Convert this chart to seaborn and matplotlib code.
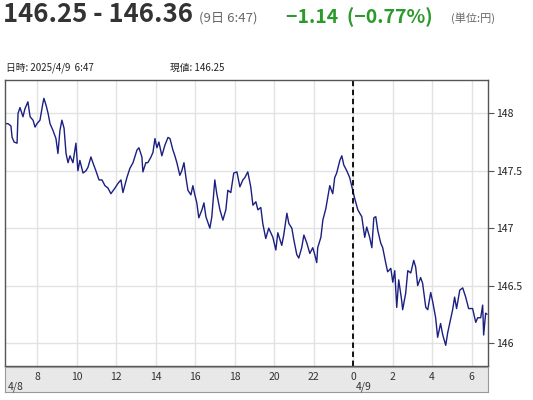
import numpy as np
import pandas as pd
import matplotlib
matplotlib.use("Agg")
import matplotlib.pyplot as plt
import seaborn as sns

# hours since 4/8 00:00, price (yen)
hours = [6.38, 6.53, 6.68, 6.74, 6.84, 6.99, 7.04, 7.14, 7.29, 7.39, 7.54, 7.65, 7.80, 7.90,
         8.00, 8.15, 8.30, 8.35, 8.46, 8.56, 8.66, 8.81, 8.96, 9.06, 9.16, 9.26, 9.37, 9.47,
         9.57, 9.67, 9.82, 9.97, 10.07, 10.17, 10.33, 10.48, 10.58, 10.73, 10.83, 10.98, 11.14,
         11.29, 11.44, 11.59, 11.74, 11.95, 12.10, 12.25, 12.35, 12.55, 12.70, 12.86, 13.06,
         13.16, 13.31, 13.36, 13.51, 13.61, 13.77, 13.87, 13.97, 14.07, 14.17, 14.32, 14.47,
         14.63, 14.73, 14.88, 14.98, 15.08, 15.23, 15.33, 15.44, 15.54, 15.64, 15.79, 15.89,
         15.99, 16.09, 16.19, 16.35, 16.45, 16.55, 16.65, 16.75, 16.85, 17.00, 17.10, 17.26,
         17.41, 17.56, 17.66, 17.81, 17.96, 18.12, 18.27, 18.42, 18.52, 18.67, 18.82, 18.93,
         19.08, 19.18, 19.33, 19.43, 19.58, 19.73, 19.94, 20.09, 20.19, 20.39, 20.49, 20.65,
         20.75, 20.90, 21.00, 21.15, 21.25, 21.40, 21.51, 21.66, 21.81, 21.96, 22.06, 22.16,
         22.21, 22.37, 22.47, 22.62, 22.72, 22.82, 22.97, 23.07, 23.17, 23.33, 23.43, 23.53,
         23.68, 23.83, 23.98, 24.08, 24.24, 24.44, 24.59, 24.69, 24.84, 24.95, 25.05, 25.15,
         25.25, 25.40, 25.50, 25.65, 25.75, 25.91, 26.01, 26.11, 26.21, 26.31, 26.46, 26.51,
         26.66, 26.77, 26.92, 27.07, 27.17, 27.27, 27.42, 27.52, 27.68, 27.78, 27.93, 28.03,
         28.18, 28.28, 28.43, 28.54, 28.69, 28.79, 28.89, 29.04, 29.14, 29.24, 29.40, 29.55,
         29.70, 29.85, 30.05, 30.21, 30.31, 30.46, 30.56, 30.61, 30.71, 30.78]
prices = [147.91, 147.91, 147.89, 147.79, 147.75, 147.74, 148.00, 148.05, 147.97, 148.04,
          148.10, 147.97, 147.94, 147.88, 147.91, 147.94, 148.09, 148.13, 148.07, 148.00,
          147.91, 147.85, 147.78, 147.65, 147.85, 147.94, 147.87, 147.65, 147.57, 147.63,
          147.57, 147.74, 147.50, 147.59, 147.48, 147.50, 147.53, 147.62, 147.57, 147.50,
          147.42, 147.42, 147.37, 147.35, 147.30, 147.35, 147.39, 147.42, 147.31, 147.44,
          147.52, 147.57, 147.68, 147.70, 147.62, 147.49, 147.57, 147.57, 147.62, 147.66,
          147.78, 147.70, 147.75, 147.63, 147.72, 147.79, 147.78, 147.68, 147.63, 147.57,
          147.46, 147.50, 147.57, 147.44, 147.33, 147.29, 147.37, 147.29, 147.22, 147.09,
          147.16, 147.22, 147.10, 147.05, 147.00, 147.10, 147.42, 147.30, 147.16, 147.07,
          147.16, 147.33, 147.31, 147.48, 147.49, 147.36, 147.42, 147.44, 147.49, 147.36,
          147.20, 147.23, 147.16, 147.18, 147.04, 146.91, 147.00, 146.92, 146.81, 146.96,
          146.85, 146.94, 147.13, 147.04, 147.00, 146.90, 146.77, 146.74, 146.83, 146.94,
          146.87, 146.78, 146.83, 146.77, 146.70, 146.83, 146.92, 147.07, 147.17, 147.27,
          147.37, 147.30, 147.44, 147.48, 147.59, 147.63, 147.55, 147.50, 147.44, 147.33,
          147.26, 147.16, 147.10, 146.92, 147.01, 146.92, 146.83, 147.09, 147.10, 146.98,
          146.87, 146.83, 146.70, 146.62, 146.65, 146.53, 146.63, 146.31, 146.55, 146.37,
          146.29, 146.43, 146.63, 146.61, 146.72, 146.66, 146.50, 146.57, 146.52, 146.31,
          146.29, 146.44, 146.36, 146.22, 146.05, 146.17, 146.07, 145.98, 146.09, 146.17,
          146.29, 146.40, 146.30, 146.46, 146.48, 146.40, 146.30, 146.30, 146.18, 146.22,
          146.22, 146.33, 146.07, 146.26, 146.25]

tick_hours = [8, 10, 12, 14, 16, 18, 20, 22, 24, 26, 28, 30]
tick_labels = ["8", "10", "12", "14", "16", "18", "20", "22", "0", "2", "4", "6"]
y_ticks = [146, 146.5, 147, 147.5, 148]
date_hours = [6.38, 24]
date_labels = ["4/8", "4/9"]

sns.set_style("white")
plt.rcParams["font.family"] = ["Noto Sans CJK JP", "DejaVu Sans"]

W, H = 533, 400
fig = plt.figure(figsize=(W / 100, H / 100), dpi=100)

x0, x1 = 6.38, 30.83
ax = fig.add_axes([5 / W, 1 - 366 / H, (488 - 5) / W, (366 - 80) / H])
df = pd.DataFrame({"hour": hours, "price": prices})
sns.lineplot(data=df, x="hour", y="price", ax=ax, color="#1b1f80", lw=1.0)
ax.axvline(24, color="black", ls=(0, (3, 2)), lw=1.3)

ax.set_xlim(x0, x1)
ax.set_ylim(145.80, 148.29)
ax.set_xticks(tick_hours)
ax.set_xticklabels([])
ax.set_yticks(y_ticks)
ax.set_yticklabels(["{:g}".format(v) for v in y_ticks])
ax.yaxis.tick_right()
ax.tick_params(axis="x", length=0)
ax.tick_params(axis="y", length=4, color="#555555", labelsize=7.5, pad=2, labelcolor="#222222")
ax.grid(True, color="#e2e2e2", lw=1)
ax.set_xlabel("")
ax.set_ylabel("")
for s in ax.spines.values():
    s.set_color("#555555")
    s.set_linewidth(1)

# time band under the chart
ax2 = fig.add_axes([5 / W, 1 - 392 / H, (488 - 5) / W, (392 - 367) / H])
ax2.set_facecolor("#e8e8e8")
ax2.set_xlim(x0, x1)
ax2.set_ylim(0, 1)
ax2.set_xticks([])
ax2.set_yticks([])
for s in ax2.spines.values():
    s.set_color("#999999")
for h, lbl in zip(tick_hours, tick_labels):
    ax2.text(h, 0.62, lbl, ha="center", va="center", fontsize=7.5, color="#333333")
for h, lbl in zip(date_hours, date_labels):
    ax2.annotate(lbl, xy=(h, 0.2), xytext=(2, 0), textcoords="offset points",
                 ha="left", va="center", fontsize=7.5, color="#333333")

# header texts
fig.text(3 / W, 1 - 15 / H, "146.25 - 146.36", fontsize=18.5, fontweight="bold",
         color="#333333", va="center")
fig.text(199 / W, 1 - 18 / H, "(9日 6:47)", fontsize=9.5, color="#666666", va="center")
fig.text(286 / W, 1 - 17 / H, "\u22121.14  (\u22120.77%)", fontsize=14, fontweight="bold",
         color="#2a9a2a", va="center")
fig.text(451 / W, 1 - 18 / H, "(単位:円)", fontsize=8, color="#666666", va="center")
fig.text(6 / W, 1 - 68 / H, "日時: 2025/4/9  6:47", fontsize=7, color="#222222", va="center")
fig.text(170 / W, 1 - 68 / H, "現値: 146.25", fontsize=7, color="#222222", va="center")

fig.savefig("out.png", dpi=100)
